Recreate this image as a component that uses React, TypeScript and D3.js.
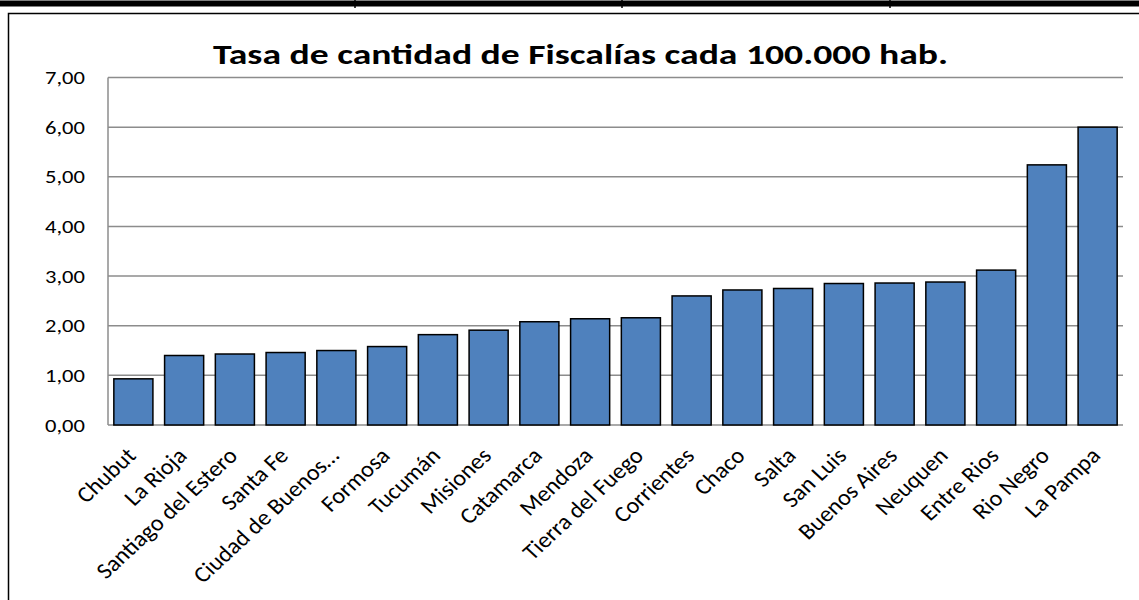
import React from "react";
import * as d3 from "d3";

const provinces: string[] = [
  "Chubut", "La Rioja", "Santiago del Estero", "Santa Fe", "Ciudad de Buenos…",
  "Formosa", "Tucumán", "Misiones", "Catamarca", "Mendoza", "Tierra del Fuego",
  "Corrientes", "Chaco", "Salta", "San Luis", "Buenos Aires", "Neuquen",
  "Entre Rios", "Rio Negro", "La Pampa",
];
const tasa: number[] = [
  0.93, 1.40, 1.43, 1.46, 1.50, 1.58, 1.82, 1.91, 2.08, 2.14, 2.16,
  2.60, 2.72, 2.75, 2.85, 2.86, 2.88, 3.12, 5.24, 6.00,
];
const yTicks: number[] = [0, 1, 2, 3, 4, 5, 6, 7];
const title = "Tasa de cantidad de Fiscalías cada 100.000 hab.";

const W = 1139;
const H = 600;
const FONT = "Carlito, Calibri, Lato, sans-serif";

export default function App() {
  const left = 108, right = 1123, top = 77.5, bottom = 425;
  const x = d3.scaleBand<string>().domain(provinces).range([left, right]).paddingInner(0.23).paddingOuter(0.115);
  const y = d3.scaleLinear().domain([0, 7]).range([bottom, top]);
  const fmt = (v: number) => v.toFixed(2).replace(".", ",");

  return (
    <svg width={W} height={H} style={{ position: "absolute", left: 0, top: 0, background: "#fff" }}>
      {/* table fragment above chart */}
      <rect x={0} y={0.5} width={W} height={6} fill="#000" />
      {[355, 622, 890].map((vx) => (
        <line key={vx} x1={vx} x2={vx} y1={0} y2={8} stroke="#000" strokeWidth={1.5} />
      ))}
      {/* chart frame */}
      <path d={`M8.5,${H} V13.5 H${W}`} fill="none" stroke="#000" strokeWidth={1.5} />
      <text
        x={213}
        y={64}
        textLength={735}
        lengthAdjust="spacingAndGlyphs"
        fontFamily={FONT}
        fontWeight="bold"
        fontSize={29}
        fill="#000"
      >
        {title}
      </text>
      {/* gridlines */}
      {yTicks.map((t) => (
        <line key={t} x1={left} x2={right} y1={y(t)} y2={y(t)} stroke="#8c8c8c" strokeWidth={1.5} />
      ))}
      <line x1={left} x2={left} y1={top} y2={bottom} stroke="#8c8c8c" strokeWidth={1.5} />
      {yTicks.map((t) => (
        <text
          key={"l" + t}
          transform={`translate(85,${y(t)}) scale(1.22,1)`}
          dy="0.36em"
          textAnchor="end"
          fontFamily={FONT}
          fontSize={18.5}
          fill="#000"
        >
          {fmt(t)}
        </text>
      ))}
      {/* bars */}
      {provinces.map((p, i) => (
        <rect
          key={p}
          x={x(p)!}
          y={y(tasa[i])}
          width={x.bandwidth()}
          height={y(0) - y(tasa[i])}
          fill="#4F81BD"
          stroke="#000"
          strokeWidth={1.5}
        />
      ))}
      {/* x labels */}
      {provinces.map((p) => {
        const cx = x(p)! + x.bandwidth() / 2 + 4;
        return (
          <text
            key={"x" + p}
            transform={`translate(${cx},${457}) scale(1.08,1) rotate(-45)`}
            textAnchor="end"
            fontFamily={FONT}
            fontSize={22.5}
            fill="#000"
          >
            {p}
          </text>
        );
      })}
    </svg>
  );
}
